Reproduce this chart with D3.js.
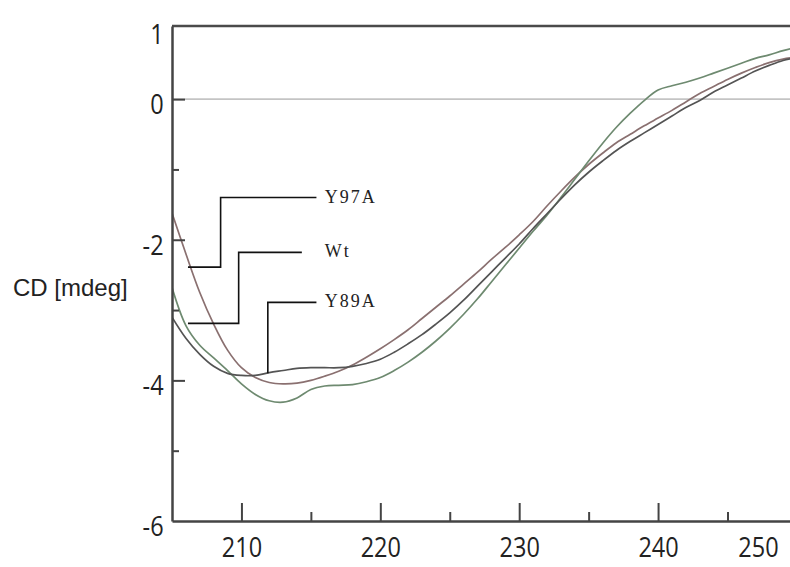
<!DOCTYPE html>
<html>
<head>
<meta charset="utf-8">
<script src="https://cdn.jsdelivr.net/npm/d3@7"></script>
<style>
  body { margin: 0; background: #fff; }
  svg { display: block; }
</style>
</head>
<body>
<div id="wrapper"></div>
<script>
// Data (wavelength in nm, CD in mdeg)
const wavelengths = d3.range(205, 251)
const y97a = [-1.62, -2.20, -2.75, -3.20, -3.57, -3.82, -3.96, -4.03, -4.05, -4.04,
    -4.00, -3.94, -3.87, -3.78, -3.67, -3.55, -3.42, -3.28, -3.12, -2.96,
    -2.80, -2.63, -2.46, -2.28, -2.11, -1.93, -1.74, -1.52, -1.31, -1.11,
    -0.93, -0.77, -0.62, -0.50, -0.38, -0.27, -0.16, -0.04, 0.08, 0.18,
    0.28, 0.37, 0.45, 0.52, 0.57, 0.60]
const wt = [-2.68, -3.22, -3.50, -3.68, -3.86, -4.05, -4.20, -4.29, -4.31, -4.25,
    -4.13, -4.08, -4.07, -4.06, -4.02, -3.96, -3.86, -3.74, -3.60, -3.44,
    -3.26, -3.06, -2.84, -2.60, -2.36, -2.12, -1.88, -1.65, -1.40, -1.14,
    -0.88, -0.63, -0.40, -0.20, -0.02, 0.13, 0.19, 0.24, 0.30, 0.37,
    0.44, 0.51, 0.58, 0.63, 0.69, 0.74]
const y89a = [-3.10, -3.40, -3.63, -3.80, -3.90, -3.93, -3.93, -3.89, -3.86, -3.83,
    -3.82, -3.82, -3.82, -3.80, -3.76, -3.70, -3.60, -3.48, -3.35, -3.20,
    -3.04, -2.86, -2.66, -2.46, -2.26, -2.06, -1.84, -1.63, -1.42, -1.22,
    -1.04, -0.88, -0.73, -0.60, -0.48, -0.36, -0.24, -0.12, -0.02, 0.10,
    0.20, 0.30, 0.40, 0.48, 0.55, 0.59]

const seriesNames = ["Y97A", "Wt", "Y89A"]
const seriesValues = [y97a, wt, y89a]
const seriesColors = ["#8a7070", "#6e8a70", "#545454"]

const xMajorTicks = [210, 220, 230, 240, 250]
const xMinorTicks = [215, 225, 235, 245]
const yMajorTicks = [1, 0, -2, -4, -6]
const yMinorTicks = [-1, -3, -5]

// callouts, in data units: tip on the curve, elbow x, label line level, label line end
const calloutTips = [[206.15, -2.39], [206.15, -3.19], [211.9, -3.90]]
const calloutElbowX = [208.5, 209.8, 211.9]
const calloutLevel = [-1.40, -2.18, -2.89]
const calloutEndX = [215.4, 214.35, 215.4]

const width = 790
const height = 567

const xScale = d3.scaleLinear().domain([205, 249.5]).range([172, width])
const yScale = d3.scaleLinear().domain([-6, 1.04]).range([521, 26])

const svg = d3.select("#wrapper")
    .append("svg")
        .attr("width", width)
        .attr("height", height)

svg.append("defs").append("clipPath")
    .attr("id", "plot")
    .append("rect")
        .attr("x", xScale.range()[0])
        .attr("y", yScale.range()[1])
        .attr("width", xScale.range()[1] - xScale.range()[0])
        .attr("height", yScale.range()[0] - yScale.range()[1])

// zero line
svg.append("line")
    .attr("x1", xScale.range()[0])
    .attr("x2", xScale.range()[1])
    .attr("y1", yScale(0))
    .attr("y2", yScale(0))
    .attr("stroke", "#c4c4c4")
    .attr("stroke-width", 1.6)

// top frame
svg.append("line")
    .attr("x1", xScale.range()[0])
    .attr("x2", xScale.range()[1])
    .attr("y1", yScale.range()[1])
    .attr("y2", yScale.range()[1])
    .attr("stroke", "#4a4a4a")
    .attr("stroke-width", 2.5)

// curves
const lineGenerator = d3.line()
    .x((d, i) => xScale(wavelengths[i]))
    .y(d => yScale(d))
    .curve(d3.curveCatmullRom)

svg.append("g")
    .attr("clip-path", "url(#plot)")
    .selectAll("path")
    .data(seriesValues)
    .join("path")
        .attr("d", lineGenerator)
        .attr("fill", "none")
        .attr("stroke", (d, i) => seriesColors[i])
        .attr("stroke-width", 1.7)

// axes
const labelScale = 0.84
const styleAxis = g => {
    g.select(".domain").attr("stroke", "#444").attr("stroke-width", 2.5)
    g.selectAll(".tick line").attr("stroke", "#444").attr("stroke-width", 2)
    g.selectAll("text")
        .attr("fill", "#222")
        .style("font-family", "'Open Sans', 'Liberation Sans', sans-serif")
        .style("font-size", "28px")
        .attr("transform", `scale(${labelScale},1)`)
}

const yAxis = svg.append("g")
    .attr("transform", `translate(${xScale.range()[0]},0)`)
    .call(d3.axisLeft(yScale)
        .tickValues(yMajorTicks)
        .tickSize(-13)
        .tickSizeOuter(0)
        .tickPadding(10)
        .tickFormat(d => String(d)))
    .call(styleAxis)
yAxis.selectAll("text").attr("dy", "0.52em")
yAxis.selectAll(".tick line").filter(d => d === 1 || d === -6).remove()

svg.append("g")
    .attr("transform", `translate(${xScale.range()[0]},0)`)
    .call(d3.axisLeft(yScale).tickValues(yMinorTicks).tickSize(-7).tickFormat(""))
    .call(g => g.select(".domain").remove())
    .call(g => g.selectAll(".tick line").attr("stroke", "#444").attr("stroke-width", 2))

const xAxis = svg.append("g")
    .attr("transform", `translate(0,${yScale.range()[0]})`)
    .call(d3.axisBottom(xScale)
        .tickValues(xMajorTicks)
        .tickSize(-18)
        .tickSizeOuter(0)
        .tickPadding(16)
        .tickFormat(d => String(d)))
    .call(styleAxis)
// last label is pulled back inside the picture
xAxis.selectAll("text")
    .attr("x", d => Math.min(0, (width - 32 - xScale(d)) / labelScale))

svg.append("g")
    .attr("transform", `translate(0,${yScale.range()[0]})`)
    .call(d3.axisBottom(xScale).tickValues(xMinorTicks).tickSize(-9).tickFormat(""))
    .call(g => g.select(".domain").remove())
    .call(g => g.selectAll(".tick line").attr("stroke", "#444").attr("stroke-width", 2))

// y axis title
svg.append("text")
    .attr("x", 13)
    .attr("y", yScale(-2.8))
    .attr("fill", "#222")
    .style("font-family", "'Liberation Sans', Arial, sans-serif")
    .style("font-size", "24px")
    .text("CD [mdeg]")

// callouts
const callouts = svg.append("g")
seriesNames.forEach((name, i) => {
    const [tx, ty] = calloutTips[i]
    const points = [
        [xScale(tx), yScale(ty)],
        [xScale(calloutElbowX[i]), yScale(ty)],
        [xScale(calloutElbowX[i]), yScale(calloutLevel[i])],
        [xScale(calloutEndX[i]), yScale(calloutLevel[i])],
    ]
    callouts.append("path")
        .attr("d", d3.line()(points))
        .attr("fill", "none")
        .attr("stroke", "#111")
        .attr("stroke-width", 1.6)
    callouts.append("text")
        .attr("x", xScale(216))
        .attr("y", yScale(calloutLevel[i]) + 5)
        .attr("fill", "#222")
        .style("font-family", "'Liberation Serif', 'Times New Roman', serif")
        .style("font-size", "18px")
        .style("letter-spacing", "2px")
        .text(name)
})
</script>
</body>
</html>
